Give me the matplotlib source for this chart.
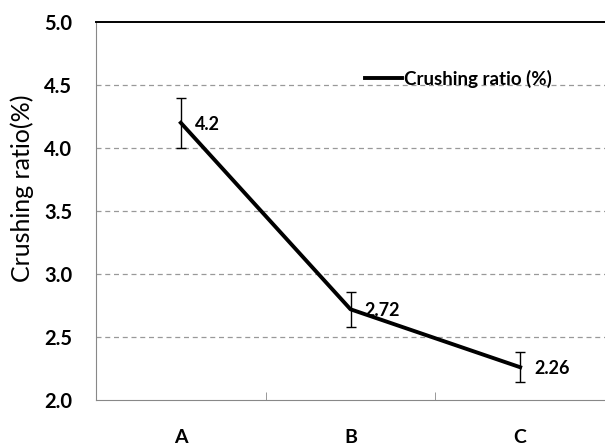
import numpy as np
import matplotlib.pyplot as plt

plt.rcParams['font.family'] = ['Lato', 'DejaVu Sans']
plt.rcParams['font.weight'] = 'bold'

# data
categories = ['A', 'B', 'C']
ratio = [4.2, 2.72, 2.26]
err = [0.2, 0.14, 0.12]
value_labels = ['4.2', '2.72', '2.26']

fig = plt.figure(figsize=(6.05, 4.48), dpi=100)
ax = fig.add_axes([96/605, 48/448, 509/605, 378/448])

x = np.arange(len(categories))
ax.errorbar(x, ratio, yerr=err, fmt='none', ecolor='black',
            elinewidth=1.0, capsize=3.5, capthick=1.0)
ax.plot(x, ratio, color='black', lw=2.8, label='Crushing ratio (%)')

for xi, yi, s in zip(x, ratio, value_labels):
    ax.annotate(s, (xi, yi), xytext=(10, -1), textcoords='offset points',
                va='center', ha='left', fontsize=13, fontweight='bold')

ax.set_xlim(-0.5, 2.5)
ax.set_ylim(2.0, 5.0)
ax.set_yticks(np.arange(2.0, 5.01, 0.5))
ax.set_yticklabels(['%.1f' % v for v in np.arange(2.0, 5.01, 0.5)])
ax.set_xticks(x)
ax.set_xticklabels(categories)
ax.set_xticks([0.5, 1.5], minor=True)
ax.tick_params(axis='x', which='major', length=0, pad=21, labelsize=14)
ax.tick_params(axis='x', which='minor', direction='in', length=6, color='#888888')
ax.tick_params(axis='y', length=0, pad=17, labelsize=14.5)

for yv in [2.5, 3.0, 3.5, 4.0, 4.5]:
    ax.axhline(yv, color='#999999', lw=0.9, ls=(0, (4, 3)), zorder=0)

ax.spines['right'].set_visible(False)
ax.spines['top'].set_color('black')
ax.spines['top'].set_linewidth(1.4)
ax.spines['left'].set_color('#888888')
ax.spines['bottom'].set_color('#888888')

fig.text(22/605, 1 - 188/448, 'Crushing ratio(%)', rotation=90, ha='center',
         va='center', fontsize=18, fontweight='normal')

ax.legend(loc='center left', bbox_to_anchor=(0.51, 0.85), frameon=False,
          handlelength=2.0, handletextpad=0.1, borderpad=0, fontsize=13.5)

fig.savefig('out.png', dpi=100)
